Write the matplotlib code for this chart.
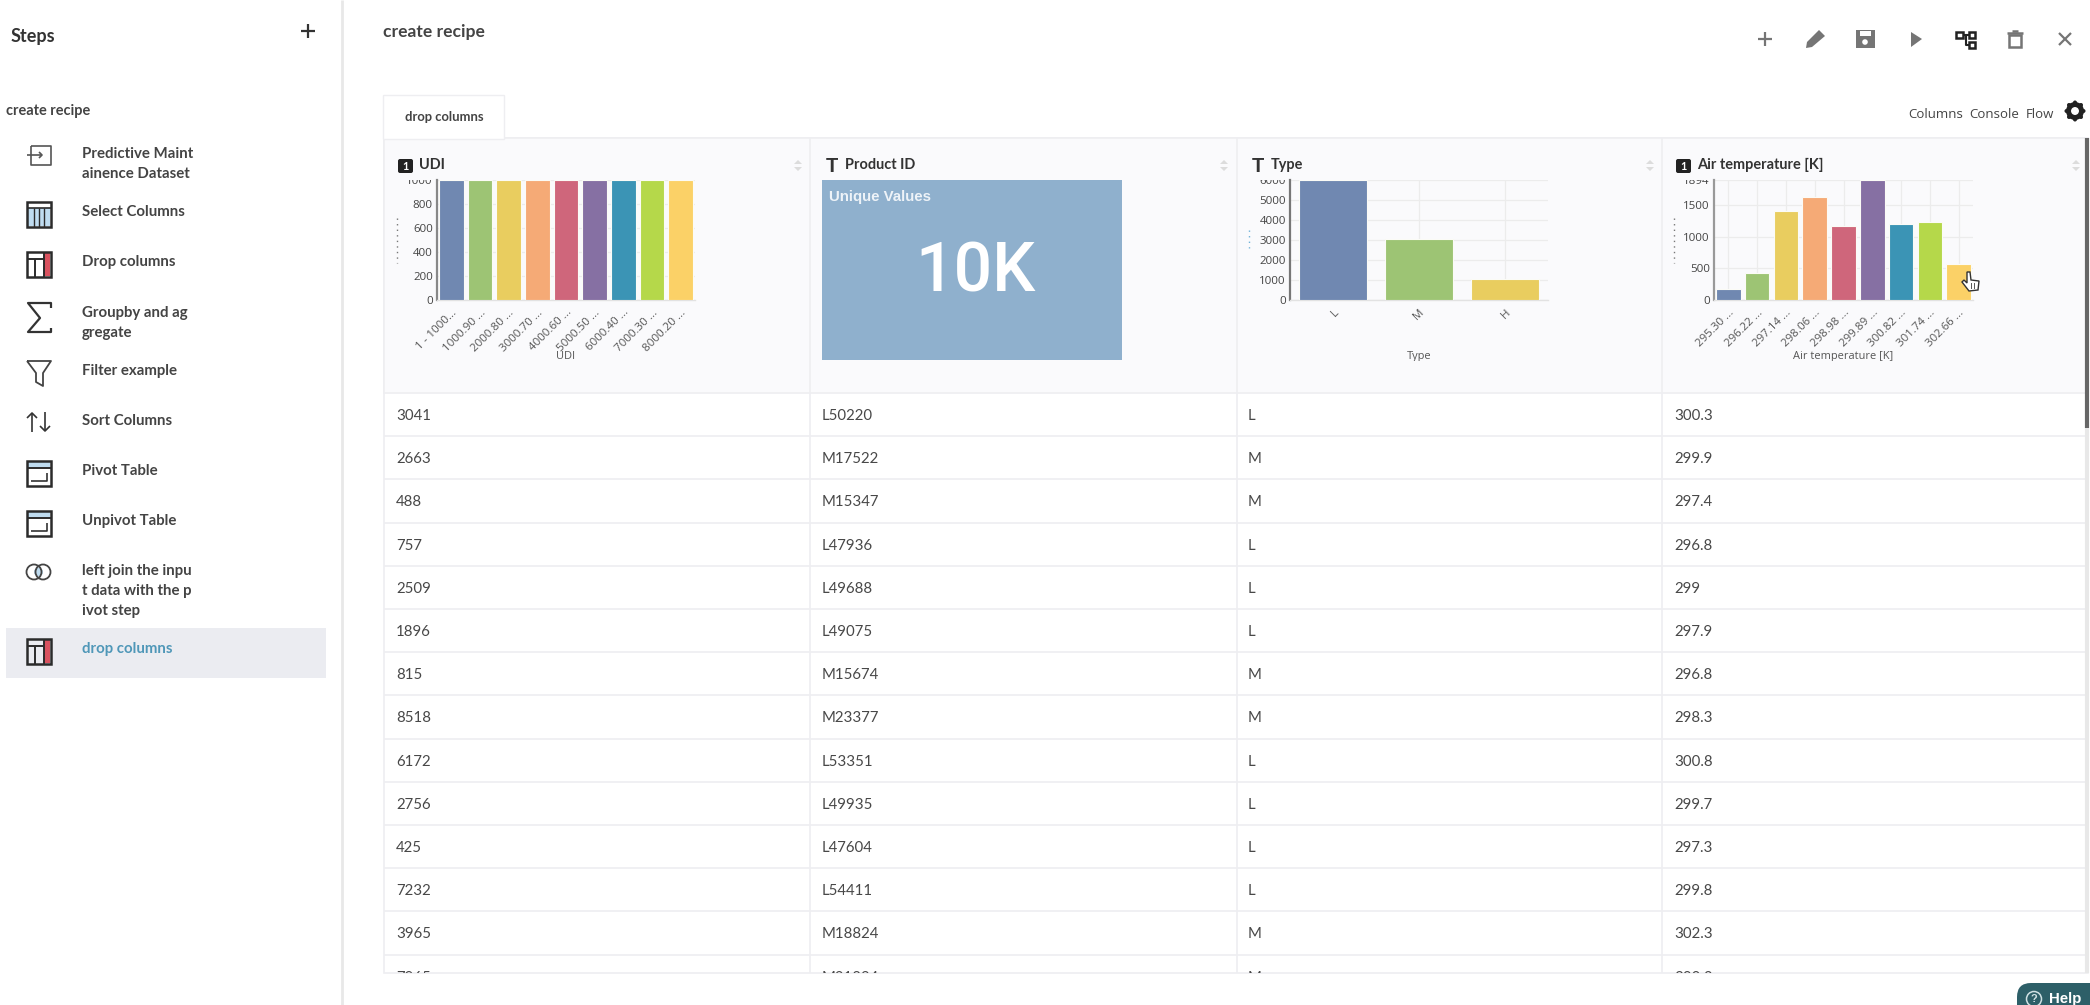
import matplotlib
matplotlib.use("Agg")
import matplotlib.pyplot as plt
from matplotlib.patches import Rectangle, Circle, Polygon, FancyBboxPatch
from matplotlib.transforms import Bbox

W, H = 2090, 1005

steps = [("Predictive Maint\nainence Dataset", 153), ("Select Columns", 211), ("Drop columns", 261),
         ("Groupby and ag\ngregate", 312), ("Filter example", 370), ("Sort Columns", 420),
         ("Pivot Table", 470), ("Unpivot Table", 520), ("left join the inpu\nt data with the p\nivot step", 570)]

udi_col = ["3041", "2663", "488", "757", "2509", "1896", "815", "8518", "6172", "2756", "425", "7232", "3965", "7965"]
pid_col = ["L50220", "M17522", "M15347", "L47936", "L49688", "L49075", "M15674", "M23377", "L53351", "L49935",
           "L47604", "L54411", "M18824", "M21824"]
type_col = ["L", "M", "M", "L", "L", "L", "M", "M", "L", "L", "L", "L", "M", "M"]
air_col = ["300.3", "299.9", "297.4", "296.8", "299", "297.9", "296.8", "298.3", "300.8", "299.7",
           "297.3", "299.8", "302.3", "300.8"]

udi_bins = ["1 - 1000...", "1000.90 ...", "2000.80 ...", "3000.70 ...", "4000.60 ...", "5000.50 ...",
            "6000.40 ...", "7000.30 ...", "8000.20 ..."]
udi_counts = [1000, 1000, 1000, 1000, 1000, 1000, 1000, 1000, 1000]
type_cats = ["L", "M", "H"]
type_counts = [6000, 3030, 1040]
air_bins = ["295.30 ...", "296.22 ...", "297.14 ...", "298.06 ...", "298.98 ...", "299.89 ...",
            "300.82 ...", "301.74 ...", "302.66 ..."]
air_counts = [170, 420, 1410, 1630, 1165, 1894, 1200, 1225, 575]

palette = ["#7088b1", "#9dc474", "#e9cd5f", "#f5aa76", "#cf667b", "#8670a3", "#3b94b5", "#b5d84a", "#fbd167"]

UI = "Lato"
DARK = "#3d3d3d"
LINE = "#eeeef1"
HEAD = "#fafafc"

plt.rcParams["font.family"] = [UI, "DejaVu Sans"]
fig = plt.figure(figsize=(W / 100, H / 100), dpi=100, facecolor="white")

# whole page in pixel coordinates, y going down
ui = fig.add_axes([0, 0, 1, 1], zorder=0)
ui.set_xlim(0, W)
ui.set_ylim(H, 0)
ui.axis("off")


def px(size):
    return size * 0.72


def label(x, y, s, size=15, color=DARK, weight="normal", ha="left", va="center", family=None, z=5):
    return ui.text(x, y + 1.3, s, fontsize=px(size), color=color, fontweight=weight, ha=ha, va=va,
                   family=family or UI, zorder=z)


def rect(x0, y0, x1, y1, fc="none", ec="none", lw=1.0, z=2):
    ui.add_patch(Rectangle((x0, y0), x1 - x0, y1 - y0, facecolor=fc, edgecolor=ec, linewidth=lw, zorder=z))


def seg(xs, ys, color="#333333", lw=1.5, z=4):
    ui.plot(xs, ys, color=color, lw=lw, zorder=z, solid_capstyle="butt")


# sidebar
seg([342, 342], [0, H], "#e8e8e8", 2)
label(11, 35, "Steps", 18, "#333333", "bold")
seg([301, 315], [31, 31], "#333333", 1.6)
seg([308, 308], [24, 38], "#333333", 1.6)
label(6, 110, "create recipe", 14.5, "#444444", "bold")
rect(6, 628, 326, 678, fc="#ebecf1", z=1)
for name, y in steps:
    for i, part in enumerate(name.split("\n")):
        label(82, y + i * 19.7, part, 15, "#444444", "bold")
label(82, 648, "drop columns", 15, "#4f97b8", "bold")


def table_icon(y0, y1, kind):
    rect(27, y0, 51, y1, ec="#2b2b2b", lw=1.8, z=4)
    if kind == "select":
        rect(28, y0 + 6, 50, y1 - 1, fc="#bfdcf0", z=3)
        for x in (34, 39, 44):
            seg([x, x], [y0 + 6, y1], "#2b2b2b", 1.0)
        seg([27, 51], [y0 + 6, y0 + 6], "#2b2b2b", 1.2)
    if kind == "drop":
        rect(44, y0 + 1, 50, y1 - 1, fc="#d9525f", z=3)
        seg([27, 44], [y0 + 7, y0 + 7], "#2b2b2b", 1.4)
        seg([35, 35], [y0 + 7, y1], "#2b2b2b", 1.4)
        seg([44, 44], [y0, y1], "#2b2b2b", 1.4)
    if kind in ("pivot", "unpivot"):
        rect(28, y0 + 1, 50, y0 + 7, fc="#bfdcf0", z=3)
        seg([27, 51], [y0 + 7, y0 + 7], "#2b2b2b", 1.4)
        seg([31, 47, 47], [y1 - 5, y1 - 5, y1 - 13], "#333333", 1.2)


seg([31, 51, 51, 31, 31], [146, 146, 165, 165, 146], "#555555", 1.2)
seg([27, 42], [155, 155], "#555555", 1.2)
seg([39, 42, 39], [152, 155, 158], "#555555", 1.2)
table_icon(202, 227, "select")
table_icon(252, 277, "drop")
seg([51, 51, 28, 40, 28, 51, 51], [308, 303, 303, 318, 332, 332, 328], "#333333", 1.6)
seg([27, 51, 43, 43, 36, 36, 27], [361, 361, 373, 386, 382, 373, 361], "#444444", 1.3)
seg([32, 32], [413, 432], "#333333", 1.2)
seg([27, 32, 37], [418, 413, 418], "#333333", 1.2)
seg([45, 45], [412, 431], "#333333", 1.2)
seg([40, 45, 50], [426, 431, 426], "#333333", 1.2)
table_icon(461, 486, "pivot")
table_icon(511, 536, "unpivot")
ui.add_patch(Circle((38.5, 572), 4.5, fc="#bfdcf0", ec="none", zorder=3))
ui.add_patch(Circle((34, 572), 7.5, fc="none", ec="#444444", lw=1.3, zorder=4))
ui.add_patch(Circle((43, 572), 7.5, fc="none", ec="#444444", lw=1.3, zorder=4))
table_icon(639, 664, "drop")

# top bar
label(383, 31, "create recipe", 17.5, "#444444", "bold")
G = "#757575"
seg([1758, 1772], [39, 39], G, 1.6)
seg([1765, 1765], [32, 46], G, 1.6)
ui.add_patch(Polygon([[1806, 48], [1807, 42], [1819, 30], [1825, 36], [1812, 47]], fc=G, ec="none", zorder=4))
rect(1856, 30, 1875, 48, fc=G, z=4)
rect(1860, 31, 1871, 36, fc="white", z=4)
ui.add_patch(Circle((1865, 42), 2.8, fc="white", ec="none", zorder=5))
ui.add_patch(Polygon([[1911, 32], [1922, 39], [1911, 47]], fc=G, ec="none", zorder=4))
rect(1956, 32, 1963, 38, ec="#222222", lw=1.8, z=5)
rect(1969, 32, 1975, 38, ec="#222222", lw=1.8, z=5)
rect(1969, 42, 1975, 48, ec="#222222", lw=1.8, z=5)
seg([1963, 1969], [35, 35], "#222222", 1.5)
seg([1966, 1966, 1969], [35, 45, 45], "#222222", 1.5)
rect(2009, 35, 2021, 47, ec=G, lw=1.8, z=4)
seg([2007, 2023], [33, 33], G, 1.8)
seg([2012, 2018], [31, 31], G, 1.8)
seg([2059, 2071], [33, 45], G, 1.6)
seg([2059, 2071], [45, 33], G, 1.6)
label(1908, 113, "Columns", 13.2, "#444444", family="Open Sans")
label(1969, 113, "Console", 13.2, "#444444", family="Open Sans")
label(2026, 113, "Flow", 13.2, "#444444", family="Open Sans")
ui.add_patch(Circle((2075, 111), 6.5, fc="none", ec="#222222", lw=3.6, zorder=4))
for dx, dy in ((0, -8.5), (0, 8.5), (-8.5, 0), (8.5, 0), (-6, -6), (6, 6), (-6, 6), (6, -6)):
    ui.add_patch(Circle((2075 + dx, 111 + dy), 2, fc="#222222", ec="none", zorder=4))

# tab and table frame
rect(384, 138, 2088, 973, fc="white", ec=LINE, lw=1.2, z=1)
rect(384, 138, 2088, 393, fc=HEAD, ec=LINE, lw=1.2, z=1)
rect(383, 95, 504, 139, fc="white", ec=LINE, lw=1.0, z=1.5)
label(444, 116, "drop columns", 13, "#444444", "bold", ha="center")

col_lines = [810, 1237, 1662]
for x in col_lines:
    seg([x, x], [138, 973], LINE, 1.2, z=1.6)

row_top = 393
row_h = 43.2
for i in range(1, 15):
    y = row_top + i * row_h
    if y < 973:
        seg([384, 2088], [y, y], LINE, 1.2, z=1.6)

for i in range(len(udi_col)):
    y = row_top + (i + 0.5) * row_h
    for x, col in zip((396, 822, 1248, 1674), (udi_col, pid_col, type_col, air_col)):
        t = label(x, y, col[i], 15, "#484848", z=1.7)
        t.set_clip_on(True)
        t.set_clip_box(Bbox([[0, H - 973], [W, H]]))

# column heads
heads = [("UDI", 398, 419, "num", 798), ("Product ID", 826, 845, "txt", 1224),
         ("Type", 1252, 1271, "txt", 1650), ("Air temperature [K]", 1676, 1697, "num", 2076)]
for name, ix, tx, kind, sx in heads:
    label(tx, 164, name, 14.5, "#333333", "bold")
    if kind == "num":
        ui.add_patch(FancyBboxPatch((ix, 159), 15, 14, boxstyle="round,pad=0,rounding_size=2",
                                    fc="#222222", ec="none", zorder=4))
        label(ix + 7.5, 165, "1", 11, "white", "bold", ha="center")
    else:
        label(ix + 6, 165, "T", 20, "#333333", "bold", ha="center", family="Liberation Sans")
    ui.add_patch(Polygon([[sx - 4, 164], [sx + 4, 164], [sx, 160]], fc="#dcdcdc", ec="none", zorder=4))
    ui.add_patch(Polygon([[sx - 4, 167], [sx + 4, 167], [sx, 171]], fc="#dcdcdc", ec="none", zorder=4))

# unique values card
rect(822, 180, 1122, 360, fc="#8fb0cd", z=3)
label(829, 196, "Unique Values", 15, "#eef3f8", "bold", family="Liberation Sans")
label(975, 271, "10K", 68, "white", "medium", ha="center", family="Roboto")

# squashed y axis names
for x, y0, y1, c in ((397, 218, 263, "#777777"), (1249, 230, 248, "#6fb2d8"), (1674, 218, 263, "#777777")):
    seg([x, x], [y0, y1], c, 1, z=3)
    ui.lines[-1].set_linestyle((0, (1, 3)))

# scrollbar
seg([2087, 2087], [138, 428], "#666666", 3)
seg([2087, 2087], [428, 973], "#e8e8e8", 3)

# help button
ui.add_patch(FancyBboxPatch((2017, 983), 90, 40, boxstyle="round,pad=0,rounding_size=14",
                            fc="#2d5f68", ec="none", zorder=6))
ui.add_patch(Circle((2034, 999), 7.5, fc="none", ec="#cfe0e3", lw=1.1, zorder=7))
label(2034, 998, "?", 11, "#cfe0e3", "bold", ha="center", family="Liberation Sans", z=7)
label(2049, 998, "Help", 15, "white", "bold", family="Liberation Sans", z=7)


def bar_chart(x0, x1, cats, counts, yticks, ymax, xname, axis_color, bar_w, bar_colors):
    ax = fig.add_axes([x0 / W, 1 - 300 / H, (x1 - x0) / W, 120 / H], zorder=3)
    ax.patch.set_alpha(0)
    pos = list(range(len(cats)))
    ax.bar(pos, counts, width=bar_w, color=bar_colors, edgecolor="#fbfbf6", linewidth=0.8, zorder=3)
    ax.set_xlim(-0.5, len(cats) - 0.5)
    ax.set_ylim(0, ymax)
    ax.set_xticks(pos)
    ax.set_xticklabels(cats, rotation=45, ha="right", va="top", rotation_mode="anchor",
                       family="Open Sans", fontsize=px(11.5), color="#555555")
    ax.set_yticks(yticks)
    ax.set_yticklabels([str(v) for v in yticks], family="Open Sans", fontsize=px(11.5), color="#444444")
    ax.tick_params(axis="both", length=0, pad=3)
    ax.tick_params(axis="x", pad=5)
    ax.grid(True, color="#ececec", lw=0.9, zorder=0)
    ax.set_axisbelow(True)
    for s in ("top", "right"):
        ax.spines[s].set_visible(False)
    ax.spines["left"].set_color(axis_color)
    ax.spines["left"].set_linewidth(1.6)
    ax.spines["bottom"].set_color("#e2e2e2")
    ax.spines["bottom"].set_linewidth(1.0)
    # top tick label and axis name get cut by the chart box in the app
    clip = Bbox([[0, H - 360.5], [W, H - 180]])
    for t in ax.get_yticklabels():
        t.set_clip_on(True)
        t.set_clip_box(clip)
    name = ui.text((x0 + x1) / 2, 356, xname, fontsize=px(11), color="#555555", ha="center", va="center",
                   family="Open Sans", zorder=4)
    name.set_clip_on(True)
    name.set_clip_box(clip)
    return ax


bar_chart(437, 695, udi_bins, udi_counts, [0, 200, 400, 600, 800, 1000], 1000, "UDI", "#888888", 0.85, palette)
bar_chart(1290, 1548, type_cats, type_counts, [0, 1000, 2000, 3000, 4000, 5000, 6000], 6000, "Type", "#777777", 0.8,
          palette)
air = bar_chart(1714, 1973, air_bins, air_counts, [0, 500, 1000, 1500, 1894], 1894, "Air temperature [K]", "#999999",
                0.85, palette)

# mouse pointer over last bar, above the chart axes
top = fig.add_axes([0, 0, 1, 1], zorder=6)
top.set_xlim(0, W)
top.set_ylim(H, 0)
top.axis("off")
top.patch.set_alpha(0)
hand = [[1967, 272], [1970, 272], [1971, 280], [1979, 281], [1978, 290], [1969, 291], [1962, 282], [1964, 280],
        [1967, 283]]
top.add_patch(Polygon(hand, fc="white", ec="#333333", lw=1.0, zorder=8))
for x in (1971, 1974):
    top.plot([x, x], [283, 288], color="#555555", lw=0.7, zorder=9)

fig.savefig("out.png", dpi=100)
